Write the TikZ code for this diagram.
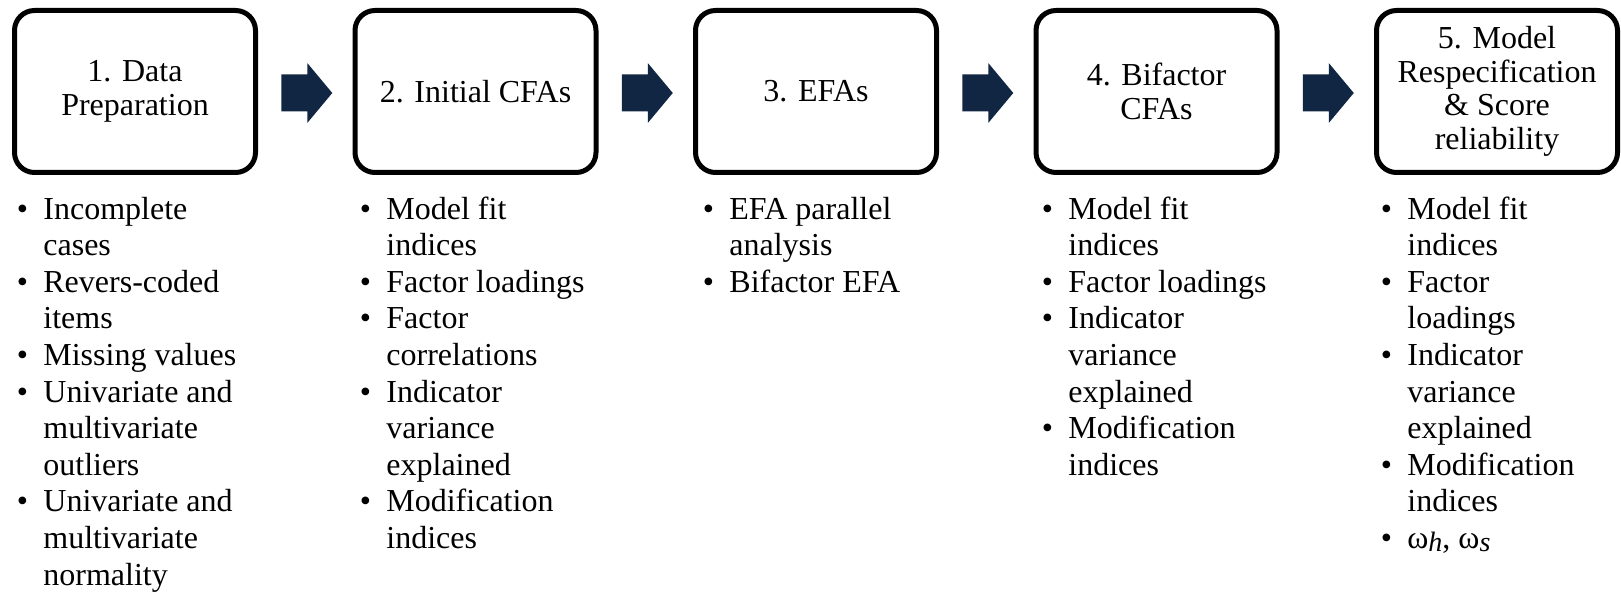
\documentclass[tikz,border=0pt]{standalone}
\usepackage{fontspec}
\setmainfont{Liberation Serif}
\usetikzlibrary{calc}

\definecolor{navy}{RGB}{17,38,66}
\newcommand{\bl}{\makebox[13.25pt][l]{\textbullet}}
\newcommand{\ind}{\makebox[13.25pt]{}}

\tikzset{
  stagebox/.style={draw, line width=2.5pt, rounded corners=10pt,
    minimum width=120.5pt, minimum height=81pt, align=center,
    font=\fontsize{16}{16.8}\selectfont},
  % anchored at the baseline of the last line
  bulletlist/.style={anchor=base west, align=left, inner sep=0pt,
    font=\fontsize{16}{18.3}\selectfont},
  blockarrow/.pic={
    \fill[navy] (-25.5,-18.5) -- (0.5,-18.5) -- (0.5,-30) -- (25.5,0)
      -- (0.5,30) -- (0.5,18.5) -- (-25.5,18.5) -- cycle;
  }
}

\begin{document}
\begin{tikzpicture}[x=0.5pt, y=-0.5pt]
    \useasboundingbox (0,0) rectangle (1621,593);

    % Stage boxes
    \node[stagebox] (s1) at (135,91.5) {1. Data\\Preparation};
    \node[stagebox] (s2) at (475.5,91.5) {2. Initial CFAs};
    \node[stagebox] (s3) at (816,91.5) {3. EFAs};
    \node[stagebox] (s4) at (1156.5,91.5) {4. Bifactor\\CFAs};
    \node[stagebox] (s5) at (1497,91.5) {5. Model\\Respecification\\\& Score\\reliability};

    % Arrows between the stages
    \foreach \a/\b in {s1/s2, s2/s3, s3/s4, s4/s5}
        \pic at ($(\a.east)!0.5!(\b.west) + (1.5,1.5)$) {blockarrow};

    % Bullet lists under each stage (first baseline at 219, 36.6 per line)
    \node[bulletlist] (l1) at (16.5,585) {\bl Incomplete\\ \ind cases\\
        \bl Revers-coded\\ \ind items\\ \bl Missing values\\
        \bl Univariate and\\ \ind multivariate\\ \ind outliers\\
        \bl Univariate and\\ \ind multivariate\\ \ind normality};
    \node[bulletlist] (l2) at (359.5,548.4) {\bl Model fit\\ \ind indices\\
        \bl Factor loadings\\ \bl Factor\\ \ind correlations\\
        \bl Indicator\\ \ind variance\\ \ind explained\\
        \bl Modification\\ \ind indices};
    \node[bulletlist] (l3) at (702.5,292.2) {\bl EFA parallel\\ \ind analysis\\
        \bl Bifactor EFA};
    \node[bulletlist] (l4) at (1041.5,475.2) {\bl Model fit\\ \ind indices\\
        \bl Factor loadings\\ \bl Indicator\\ \ind variance\\ \ind explained\\
        \bl Modification\\ \ind indices};
    \node[bulletlist] (l5) at (1380.5,548.4) {\bl Model fit\\ \ind indices\\
        \bl Factor\\ \ind loadings\\ \bl Indicator\\ \ind variance\\ \ind explained\\
        \bl Modification\\ \ind indices\\
        \bl ω\raisebox{-0.2ex}{\fontsize{14}{14}\selectfont\textit{h}}, ω\raisebox{-0.2ex}{\fontsize{14}{14}\selectfont\textit{s}}};
\end{tikzpicture}
\end{document}
